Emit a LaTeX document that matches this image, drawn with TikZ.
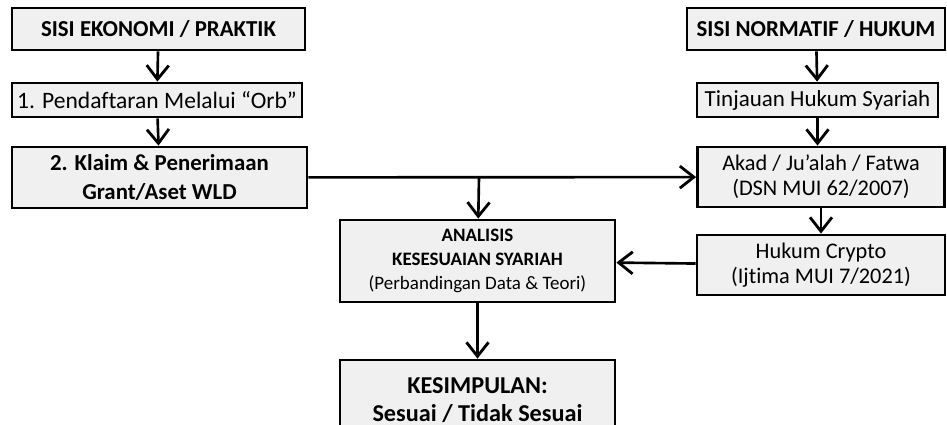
\documentclass[tikz,border=0pt]{standalone}
\usepackage{fontspec}
\setmainfont{Carlito}[Ligatures=NoCommon]
\usetikzlibrary{arrows.meta}

\begin{document}
\begin{tikzpicture}[x=0.02cm,y=-0.02cm,
  box/.style={draw,line width=1.6pt,fill=gray!12,align=center,inner sep=0pt},
  flow/.style={line width=1.5pt,-{Straight Barb[length=2.8mm,width=4.4mm,line width=1.6pt]}}]
\clip (0,0) rectangle (947,425);
% left column: practice
\node[box,minimum width=5.86cm,minimum height=0.84cm,font=\bfseries\fontsize{13}{15}\selectfont] (eko) at (158.5,29) {SISI EKONOMI / PRAKTIK};
\node[box,minimum width=5.8cm,minimum height=0.68cm,font=\fontsize{13.4}{15}\selectfont] (orb) at (157,100) {1. Pendaftaran Melalui “Orb”};
\node[box,minimum width=5.9cm,minimum height=1.22cm,font=\bfseries\fontsize{13}{16}\selectfont] (klaim) at (159.5,177.5) {2. Klaim \& Penerimaan\\Grant/Aset WLD};
% right column: norms
\node[box,minimum width=5.16cm,minimum height=0.84cm,font=\bfseries\fontsize{13}{15}\selectfont] (norm) at (816,29) {SISI NORMATIF / HUKUM};
\node[box,minimum width=4.82cm,minimum height=0.68cm,font=\fontsize{13.1}{15}\selectfont] (tinjau) at (817.5,100) {Tinjauan Hukum Syariah};
\node[box,minimum width=4.94cm,minimum height=1.2cm,font=\fontsize{12.7}{14.2}\selectfont] (akad) at (821,177) {Akad / Ju’alah / Fatwa\\(DSN MUI 62/2007)};
\node[box,minimum width=4.96cm,minimum height=1.2cm,font=\fontsize{12.7}{14.2}\selectfont] (crypto) at (821,265) {Hukum Crypto\\(Ijtima MUI 7/2021)};
% middle: analysis and result
\node[box,minimum width=5.5cm,minimum height=1.64cm,font=\fontsize{10.8}{13.6}\selectfont] (analisis) at (477.5,261) {\textbf{ANALISIS}\\\textbf{KESESUAIAN SYARIAH}\\(Perbandingan Data \& Teori)};
\node[box,minimum width=5.5cm,minimum height=1.6cm,font=\bfseries\fontsize{13.8}{15.5}\selectfont] (hasil) at (477.5,400) {KESIMPULAN:\\Sesuai / Tidak Sesuai};
\coordinate (cab) at (479,177.5);
\draw[flow] (eko) -- (orb);
\draw[flow] (orb) -- (eko|-klaim.north);
\draw[flow] (norm) -- (tinjau);
\draw[flow] (tinjau) -- (tinjau|-akad.north);
\draw[flow] (akad.south-|crypto.north) -- (crypto);
\draw[flow] (klaim) -- (akad);
\draw[flow] (cab) -- (analisis);
\draw[flow] (crypto) -- (analisis);
\draw[flow] (analisis) -- (hasil);
\end{tikzpicture}
\end{document}
